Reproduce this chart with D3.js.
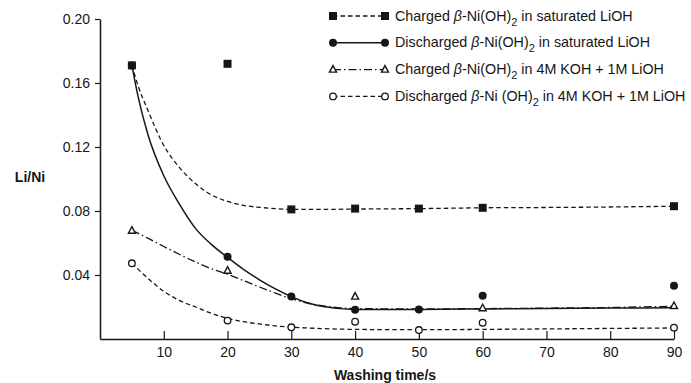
<!DOCTYPE html>
<html>
<head>
<meta charset="utf-8">
<style>
  body { margin: 0; background: #fff; }
  svg { font-family: "Liberation Sans", Arial, sans-serif; }
</style>
</head>
<body>
<div id="liChart"></div>

<script src="https://cdn.jsdelivr.net/npm/d3@7"></script>

<script>
    // measured points, washing time in s
    var washTime = [5, 20, 30, 40, 50, 60, 90];
    var chargedSat = [0.171, 0.172, 0.081, 0.0815, 0.0815, 0.082, 0.083];
    var dischargedSat = [0.171, 0.0514, 0.0265, 0.0183, 0.0185, 0.027, 0.0333];
    var kohTime = [5, 20, 40, 60, 90];
    var chargedKoh = [0.0677, 0.0427, 0.0265, 0.0192, 0.0206];
    var dischargedKoh = [0.0473, 0.0115, 0.0073, 0.0108, 0.0056, 0.0102, 0.0071];

    // hand drawn fit curves
    var fitTime = [5, 6, 7.5, 10, 12.5, 15, 17.5, 20, 22.5, 25, 27.5, 30, 32.5, 35, 40, 50, 60, 70, 80, 90];
    var chargedSatFit = [0.171, 0.158, 0.143, 0.121, 0.107, 0.097, 0.090, 0.086, 0.0835, 0.0823, 0.0815, 0.081, 0.081, 0.081, 0.0812, 0.0815, 0.082, 0.0822, 0.0825, 0.083];
    var dischargedSatFit = [0.171, 0.151, 0.128, 0.102, 0.084, 0.069, 0.059, 0.051, 0.0435, 0.037, 0.0313, 0.0265, 0.0227, 0.0203, 0.0185, 0.0185, 0.0188, 0.019, 0.0193, 0.0196];
    var chargedKohFit = [0.0677, 0.066, 0.063, 0.0578, 0.0528, 0.0481, 0.0438, 0.0405, 0.0365, 0.0325, 0.0287, 0.0252, 0.0225, 0.0207, 0.019, 0.0188, 0.019, 0.0193, 0.0197, 0.0205];
    var dischargedKohFit = [0.0473, 0.0435, 0.038, 0.0298, 0.024, 0.020, 0.016, 0.0129, 0.0108, 0.0094, 0.0082, 0.0074, 0.0069, 0.0065, 0.006, 0.0058, 0.006, 0.0063, 0.0066, 0.0069];

    var xTicks = [10, 20, 30, 40, 50, 60, 70, 80, 90];
    var yTicks = [0.04, 0.08, 0.12, 0.16, 0.20];
    var legendText = [
      ["Charged ", "-Ni(OH)", " in saturated LiOH"],
      ["Discharged ", "-Ni(OH)", " in saturated LiOH"],
      ["Charged ", "-Ni(OH)", " in 4M KOH + 1M LiOH"],
      ["Discharged ", "-Ni (OH)", " in 4M KOH + 1M LiOH"]
    ];

    var width = 691, height = 383;
    var ink = "#161616";

    var svg = d3.select("#liChart")
        .append("svg")
        .attr("width", width)
        .attr("height", height);

    var x = d3.scaleLinear().domain([0, 90]).range([100, 674]);
    var y = d3.scaleLinear().domain([0, 0.20]).range([339, 19]);

    // axes
    var yAxis = svg.append("g")
        .attr("transform", "translate(100,0)")
        .call(d3.axisLeft(y).tickValues(yTicks).tickSize(5).tickSizeOuter(0).tickPadding(5)
            .tickFormat(d3.format(".2f")));
    var xAxis = svg.append("g")
        .attr("transform", "translate(0,339)")
        .call(d3.axisBottom(x).tickValues(xTicks).tickSize(-8).tickSizeOuter(0).tickPadding(8));

    [xAxis, yAxis].forEach(function(a) {
      a.select(".domain").attr("stroke", ink).attr("stroke-width", 1.5);
      a.selectAll(".tick line").attr("stroke", ink).attr("stroke-width", 1.2);
      a.selectAll(".tick text").attr("fill", ink).style("font-size", "14px")
          .style("font-family", "'Liberation Sans', Arial, sans-serif");
    });

    svg.append("text")
        .attr("x", 30).attr("y", 182)
        .attr("text-anchor", "middle")
        .attr("font-weight", "bold").attr("font-size", 14)
        .attr("fill", ink)
        .text("Li/Ni");
    svg.append("text")
        .attr("x", 385).attr("y", 380)
        .attr("text-anchor", "middle")
        .attr("font-weight", "bold").attr("font-size", 14)
        .attr("fill", ink)
        .text("Washing time/s");

    // curves
    var line = d3.line()
        .x(function(d) { return x(d[0]); })
        .y(function(d) { return y(d[1]); })
        .curve(d3.curveMonotoneX);

    var styles = [
      { fit: chargedSatFit, dash: "4.5,3", w: 1.3 },
      { fit: dischargedSatFit, dash: null, w: 1.5 },
      { fit: chargedKohFit, dash: "8,3,1.5,3", w: 1.3 },
      { fit: dischargedKohFit, dash: "4.5,3", w: 1.3 }
    ];

    styles.forEach(function(s) {
      svg.append("path")
          .datum(d3.zip(fitTime, s.fit))
          .attr("d", line)
          .attr("fill", "none")
          .attr("stroke", ink)
          .attr("stroke-width", s.w)
          .attr("stroke-dasharray", s.dash);
    });

    // markers
    function drawMarker(g, kind, cx, cy) {
      if (kind === 0) {
        g.append("rect").attr("x", cx - 4).attr("y", cy - 4).attr("width", 8).attr("height", 8)
            .attr("fill", ink);
      } else if (kind === 1) {
        g.append("circle").attr("cx", cx).attr("cy", cy).attr("r", 4).attr("fill", ink);
      } else if (kind === 2) {
        g.append("path")
            .attr("d", "M" + cx + "," + (cy - 4) + "L" + (cx + 3.5) + "," + (cy + 2.5) + "L" + (cx - 3.5) + "," + (cy + 2.5) + "Z")
            .attr("fill", "#fff").attr("stroke", ink).attr("stroke-width", 1.4);
      } else {
        g.append("circle").attr("cx", cx).attr("cy", cy).attr("r", 3.3)
            .attr("fill", "#fff").attr("stroke", ink).attr("stroke-width", 1.3);
      }
    }

    var pts = svg.append("g").attr("class", "points");
    d3.zip(washTime, dischargedKoh).forEach(function(d) { drawMarker(pts, 3, x(d[0]), y(d[1])); });
    d3.zip(kohTime, chargedKoh).forEach(function(d) { drawMarker(pts, 2, x(d[0]), y(d[1])); });
    d3.zip(washTime, dischargedSat).forEach(function(d) { drawMarker(pts, 1, x(d[0]), y(d[1])); });
    d3.zip(washTime, chargedSat).forEach(function(d) { drawMarker(pts, 0, x(d[0]), y(d[1])); });

    // legend
    var legend = svg.append("g").attr("class", "legend");
    legendText.forEach(function(t, i) {
      var ly = 16 + i * 26.8;
      var s = styles[i];
      legend.append("line")
          .attr("x1", 333).attr("x2", 385).attr("y1", ly).attr("y2", ly)
          .attr("stroke", ink).attr("stroke-width", s.w)
          .attr("stroke-dasharray", s.dash);
      drawMarker(legend, i, 333, ly);
      drawMarker(legend, i, 385, ly);

      var txt = legend.append("text")
          .attr("x", 395).attr("y", ly + 4.5)
          .attr("font-size", 14.3)
          .attr("fill", ink);
      txt.append("tspan").text(t[0]);
      txt.append("tspan").attr("font-style", "italic").text("β");
      txt.append("tspan").text(t[1]);
      txt.append("tspan").attr("font-size", 11).attr("dy", 5).text("2");
      txt.append("tspan").attr("dy", -5).text(t[2]);
    });
</script>
</body>
</html>
